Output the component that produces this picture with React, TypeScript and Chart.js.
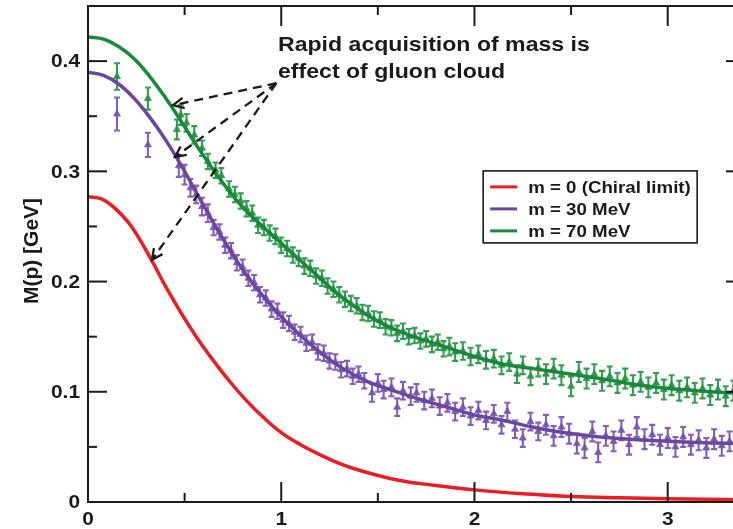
import React, { useEffect, useRef } from "react";
import { Chart, registerables } from "chart.js";
Chart.register(...registerables);

// ---- axes ----
const X_MIN = 0;
const X_MAX = 3.4;
const Y_MIN = 0;
const Y_MAX = 0.45;
const X_MAJOR = [0, 1, 2, 3];
const X_MINOR = [0.5, 1.5, 2.5];
const X_TICK_LABELS = ["0", "1", "2", "3"];
const Y_MAJOR = [0, 0.1, 0.2, 0.3, 0.4];
const Y_MINOR = [0.05, 0.15, 0.25, 0.35];
const Y_TICK_LABELS = ["0", "0.1", "0.2", "0.3", "0.4"];
const Y_TITLE = "M(p) [GeV]";

// ---- legend / annotation text ----
const SERIES_LABELS = ["m = 0 (Chiral limit)", "m = 30 MeV", "m = 70 MeV"];
const NOTE_LINES = ["Rapid acquisition of mass is", "effect of gluon cloud"];
const NOTE_POS = [0.983, 0.414]; // data coords of first line
const ARROW_FROM = [0.975, 0.38];
const ARROW_TO_P = [0.44, 0.45, 0.331];
const ARROW_TO_M = [0.36, 0.313, 0.2196];
const LEGEND_POS = [2.045, 0.3004]; // top-left corner (data coords)

// ---- fitted curves ----
const RED_P = [0, 0.07, 0.13, 0.22, 0.33, 0.4, 0.48, 0.56, 0.65, 0.73, 0.82, 0.9, 1.0, 1.1, 1.2, 1.3, 1.4, 1.6, 1.8, 2.0, 2.25, 2.5, 2.75, 3.0, 3.4];
const RED_M = [0.277, 0.275, 0.268, 0.251, 0.219, 0.196, 0.172, 0.15, 0.128, 0.11, 0.092, 0.078, 0.063, 0.052, 0.043, 0.035, 0.029, 0.02, 0.015, 0.011, 0.0075, 0.005, 0.0038, 0.003, 0.002];

const PURPLE_P = [0, 0.08, 0.16, 0.24, 0.32, 0.4, 0.48, 0.56, 0.65, 0.74, 0.82, 0.91, 1.0, 1.1, 1.2, 1.32, 1.45, 1.58, 1.72, 1.86, 2.0, 2.15, 2.3, 2.46, 2.65, 2.9, 3.15, 3.4];
const PURPLE_M = [0.39, 0.387, 0.379, 0.366, 0.349, 0.329, 0.306, 0.281, 0.253, 0.227, 0.206, 0.186, 0.168, 0.151, 0.136, 0.121, 0.109, 0.101, 0.093, 0.086, 0.079, 0.074, 0.068, 0.063, 0.059, 0.056, 0.054, 0.053];

const GREEN_P = [0, 0.08, 0.16, 0.24, 0.32, 0.4, 0.48, 0.56, 0.65, 0.74, 0.82, 0.91, 1.0, 1.08, 1.17, 1.25, 1.32, 1.45, 1.58, 1.72, 1.86, 2.0, 2.15, 2.3, 2.46, 2.65, 2.9, 3.15, 3.4];
const GREEN_M = [0.422, 0.42, 0.413, 0.402, 0.386, 0.367, 0.346, 0.324, 0.301, 0.28, 0.264, 0.249, 0.235, 0.222, 0.208, 0.195, 0.185, 0.169, 0.157, 0.148, 0.14, 0.132, 0.125, 0.121, 0.117, 0.112, 0.105, 0.101, 0.098];

// ---- lattice data (p, M, error) ----
const GREEN_DP = [0.15, 0.31, 0.46, 0.48, 0.51, 0.55, 0.59, 0.62, 0.66, 0.69, 0.73, 0.76, 0.79, 0.82, 0.85, 0.88, 0.91, 0.94, 0.97, 1.0, 1.03, 1.06, 1.09, 1.12, 1.15, 1.18, 1.21, 1.24, 1.27, 1.3, 1.33, 1.36, 1.39, 1.42, 1.45, 1.48, 1.51, 1.54, 1.57, 1.6, 1.63, 1.66, 1.69, 1.72, 1.75, 1.78, 1.81, 1.84, 1.87, 1.9, 1.94, 1.98, 2.02, 2.06, 2.1, 2.14, 2.18, 2.22, 2.25, 2.29, 2.33, 2.37, 2.41, 2.45, 2.5, 2.54, 2.58, 2.62, 2.66, 2.7, 2.74, 2.78, 2.82, 2.86, 2.9, 2.94, 2.98, 3.02, 3.06, 3.1, 3.14, 3.18, 3.22, 3.26, 3.3, 3.34, 3.38];
const GREEN_DM = [0.386, 0.366, 0.338, 0.351, 0.344, 0.333, 0.321, 0.309, 0.301, 0.296, 0.284, 0.279, 0.273, 0.266, 0.262, 0.251, 0.249, 0.244, 0.241, 0.233, 0.23, 0.224, 0.221, 0.214, 0.212, 0.205, 0.203, 0.196, 0.193, 0.188, 0.184, 0.18, 0.178, 0.172, 0.171, 0.166, 0.165, 0.159, 0.158, 0.153, 0.155, 0.15, 0.151, 0.146, 0.148, 0.143, 0.145, 0.139, 0.141, 0.136, 0.137, 0.132, 0.134, 0.129, 0.13, 0.124, 0.127, 0.116, 0.124, 0.114, 0.122, 0.116, 0.121, 0.115, 0.105, 0.118, 0.112, 0.116, 0.11, 0.114, 0.108, 0.112, 0.106, 0.109, 0.104, 0.108, 0.102, 0.106, 0.101, 0.104, 0.099, 0.103, 0.097, 0.102, 0.096, 0.101, 0.098];
const GREEN_DE = [0.012, 0.01, 0.009, 0.009, 0.008, 0.008, 0.007, 0.007, 0.007, 0.007, 0.007, 0.007, 0.007, 0.007, 0.007, 0.007, 0.007, 0.007, 0.007, 0.007, 0.007, 0.007, 0.007, 0.007, 0.007, 0.007, 0.007, 0.007, 0.007, 0.007, 0.007, 0.007, 0.007, 0.007, 0.007, 0.007, 0.007, 0.007, 0.007, 0.007, 0.007, 0.007, 0.007, 0.007, 0.007, 0.007, 0.007, 0.007, 0.008, 0.008, 0.008, 0.008, 0.008, 0.008, 0.008, 0.008, 0.008, 0.008, 0.008, 0.008, 0.008, 0.009, 0.009, 0.009, 0.009, 0.009, 0.009, 0.009, 0.009, 0.009, 0.009, 0.009, 0.009, 0.009, 0.009, 0.009, 0.009, 0.009, 0.009, 0.009, 0.009, 0.009, 0.009, 0.009, 0.009, 0.009, 0.009];

const PURPLE_DP = [0.15, 0.31, 0.47, 0.5, 0.53, 0.56, 0.59, 0.62, 0.65, 0.68, 0.71, 0.74, 0.77, 0.8, 0.83, 0.86, 0.89, 0.92, 0.95, 0.98, 1.01, 1.04, 1.07, 1.1, 1.13, 1.16, 1.19, 1.22, 1.25, 1.28, 1.31, 1.34, 1.37, 1.4, 1.43, 1.47, 1.5, 1.53, 1.57, 1.6, 1.63, 1.67, 1.7, 1.74, 1.78, 1.82, 1.86, 1.9, 1.94, 1.98, 2.02, 2.06, 2.1, 2.14, 2.17, 2.21, 2.25, 2.29, 2.33, 2.37, 2.41, 2.45, 2.49, 2.53, 2.57, 2.61, 2.64, 2.68, 2.72, 2.76, 2.8, 2.84, 2.88, 2.92, 2.96, 3.0, 3.04, 3.08, 3.12, 3.16, 3.2, 3.24, 3.28, 3.32, 3.36];
const PURPLE_DM = [0.352, 0.324, 0.305, 0.297, 0.285, 0.279, 0.268, 0.262, 0.249, 0.245, 0.233, 0.228, 0.217, 0.213, 0.203, 0.199, 0.188, 0.185, 0.175, 0.173, 0.165, 0.162, 0.154, 0.152, 0.144, 0.145, 0.136, 0.135, 0.128, 0.127, 0.12, 0.121, 0.114, 0.116, 0.11, 0.099, 0.108, 0.102, 0.104, 0.086, 0.101, 0.096, 0.099, 0.092, 0.094, 0.087, 0.09, 0.082, 0.086, 0.078, 0.083, 0.074, 0.08, 0.07, 0.082, 0.066, 0.058, 0.073, 0.064, 0.07, 0.06, 0.068, 0.062, 0.053, 0.049, 0.064, 0.045, 0.06, 0.055, 0.065, 0.052, 0.068, 0.057, 0.061, 0.052, 0.058, 0.05, 0.059, 0.052, 0.056, 0.049, 0.057, 0.051, 0.055, 0.048];
const PURPLE_DE = [0.015, 0.011, 0.01, 0.009, 0.008, 0.008, 0.008, 0.008, 0.007, 0.007, 0.007, 0.007, 0.007, 0.007, 0.007, 0.007, 0.007, 0.007, 0.007, 0.007, 0.007, 0.007, 0.007, 0.007, 0.007, 0.007, 0.007, 0.007, 0.007, 0.007, 0.007, 0.007, 0.007, 0.007, 0.007, 0.008, 0.008, 0.008, 0.008, 0.008, 0.008, 0.008, 0.008, 0.008, 0.008, 0.008, 0.008, 0.008, 0.008, 0.008, 0.008, 0.008, 0.008, 0.008, 0.008, 0.008, 0.008, 0.008, 0.008, 0.009, 0.009, 0.009, 0.009, 0.009, 0.009, 0.009, 0.009, 0.009, 0.009, 0.009, 0.009, 0.009, 0.009, 0.009, 0.009, 0.009, 0.009, 0.009, 0.009, 0.009, 0.009, 0.009, 0.009, 0.009, 0.009];

const RED = "#ec1c24";
const PURPLE = "#6b45a0";
const GREEN = "#18893b";
const PURPLE_PT = "rgba(118,82,176,0.92)";
const GREEN_PT = "rgba(38,148,68,0.92)";
const INK = "#1a1a1a";
const FONT = "'Liberation Sans', Arial, Helvetica, sans-serif";
const STRETCH = 1.1;

const zip = (xs: number[], ys: number[]) => xs.map((x, i) => ({ x, y: ys[i] }));

function text(ctx: any, t: string, x: number, y: number, align: string) {
  ctx.save();
  ctx.translate(x, y);
  ctx.scale(STRETCH, 1);
  ctx.textAlign = align;
  ctx.fillText(t, 0, 0);
  ctx.restore();
}

const decor = {
  id: "decor",
  beforeDatasetsDraw(chart: any) {
    const ctx = chart.ctx;
    const ys = chart.scales.y;
    const area = chart.chartArea;
    ctx.save();
    ctx.beginPath();
    ctx.rect(area.left, area.top, area.right - area.left, area.bottom - area.top);
    ctx.clip();
    chart.data.datasets.forEach((ds: any, i: number) => {
      if (!ds.errors) return;
      const meta = chart.getDatasetMeta(i);
      ctx.strokeStyle = ds.pointBackgroundColor;
      ctx.lineWidth = 2.1;
      meta.data.forEach((el: any, j: number) => {
        const v = ds.data[j].y;
        const e = ds.errors[j];
        const y1 = ys.getPixelForValue(v + e);
        const y2 = ys.getPixelForValue(v - e);
        ctx.beginPath();
        ctx.moveTo(el.x, y1);
        ctx.lineTo(el.x, y2);
        ctx.moveTo(el.x - 3, y1);
        ctx.lineTo(el.x + 3, y1);
        ctx.moveTo(el.x - 3, y2);
        ctx.lineTo(el.x + 3, y2);
        ctx.stroke();
      });
    });
    ctx.restore();
  },
  afterDraw(chart: any) {
    const ctx = chart.ctx;
    const xs = chart.scales.x;
    const ys = chart.scales.y;
    const a = chart.chartArea;
    ctx.save();
    ctx.strokeStyle = INK;
    ctx.fillStyle = INK;
    ctx.lineWidth = 2;
    ctx.strokeRect(a.left, a.top, a.right - a.left, a.bottom - a.top);
    const seg = (x1: number, y1: number, x2: number, y2: number) => {
      ctx.beginPath();
      ctx.moveTo(x1, y1);
      ctx.lineTo(x2, y2);
      ctx.stroke();
    };
    X_MAJOR.forEach((v) => {
      const x = xs.getPixelForValue(v);
      seg(x, a.bottom, x, a.bottom - 20);
      seg(x, a.top, x, a.top + 20);
    });
    X_MINOR.forEach((v) => {
      const x = xs.getPixelForValue(v);
      seg(x, a.bottom, x, a.bottom - 9);
      seg(x, a.top, x, a.top + 9);
    });
    Y_MAJOR.forEach((v) => {
      const y = ys.getPixelForValue(v);
      seg(a.left, y, a.left + 19, y);
      seg(a.right, y, a.right - 19, y);
    });
    Y_MINOR.forEach((v) => {
      const y = ys.getPixelForValue(v);
      seg(a.left, y, a.left + 9, y);
      seg(a.right, y, a.right - 9, y);
    });
    // tick labels
    ctx.font = `bold 19px ${FONT}`;
    ctx.textBaseline = "middle";
    X_MAJOR.forEach((v, i) => {
      text(ctx, X_TICK_LABELS[i], xs.getPixelForValue(v), a.bottom + 18, "center");
    });
    Y_MAJOR.forEach((v, i) => {
      text(ctx, Y_TICK_LABELS[i], a.left - 8, ys.getPixelForValue(v) + 1, "right");
    });
    // y title
    ctx.save();
    ctx.translate(32, (a.top + a.bottom) / 2 - 3);
    ctx.rotate(-Math.PI / 2);
    ctx.textAlign = "center";
    ctx.font = `bold 21px ${FONT}`;
    ctx.fillText(Y_TITLE, 0, 0);
    ctx.restore();

    // annotation text
    ctx.font = `bold 21px ${FONT}`;
    const nx = xs.getPixelForValue(NOTE_POS[0]);
    const ny = ys.getPixelForValue(NOTE_POS[1]);
    NOTE_LINES.forEach((t, i) => text(ctx, t, nx, ny + i * 27, "left"));

    // arrows
    const fx = xs.getPixelForValue(ARROW_FROM[0]);
    const fy = ys.getPixelForValue(ARROW_FROM[1]);
    ctx.lineWidth = 2.3;
    ARROW_TO_P.forEach((p, i) => {
      const tx = xs.getPixelForValue(p);
      const ty = ys.getPixelForValue(ARROW_TO_M[i]);
      ctx.setLineDash([9, 6]);
      seg(fx, fy, tx, ty);
      ctx.setLineDash([]);
      const ang = Math.atan2(ty - fy, tx - fx);
      const L = 12;
      ctx.beginPath();
      ctx.moveTo(tx - L * Math.cos(ang - 0.45), ty - L * Math.sin(ang - 0.45));
      ctx.lineTo(tx, ty);
      ctx.lineTo(tx - L * Math.cos(ang + 0.45), ty - L * Math.sin(ang + 0.45));
      ctx.stroke();
    });

    // legend
    const lx = xs.getPixelForValue(LEGEND_POS[0]);
    const ly = ys.getPixelForValue(LEGEND_POS[1]);
    ctx.lineWidth = 1.6;
    ctx.strokeStyle = INK;
    ctx.fillStyle = "#ffffff";
    ctx.fillRect(lx, ly, 214, 72);
    ctx.strokeRect(lx, ly, 214, 72);
    const cols = [RED, PURPLE, GREEN];
    ctx.font = `bold 17px ${FONT}`;
    ctx.textBaseline = "middle";
    SERIES_LABELS.forEach((t, i) => {
      const yy = ly + 16 + i * 22;
      ctx.strokeStyle = cols[i];
      ctx.lineWidth = 3;
      seg(lx + 7, yy, lx + 34, yy);
      ctx.fillStyle = INK;
      text(ctx, t, lx + 45, yy + 1, "left");
    });
    ctx.restore();
  },
};

export default function App() {
  const ref = useRef<HTMLCanvasElement>(null);
  useEffect(() => {
    if (!ref.current) return;
    const lineDs = (label: string, p: number[], m: number[], c: string) => ({
      label,
      data: zip(p, m),
      showLine: true,
      borderColor: c,
      backgroundColor: c,
      borderWidth: 3.5,
      pointRadius: 0,
      tension: 0.4,
      order: 1,
    });
    const ptDs = (label: string, p: number[], m: number[], e: number[], c: string) => ({
      label,
      data: zip(p, m),
      errors: e,
      showLine: false,
      pointStyle: "triangle",
      pointRadius: 4,
      pointBackgroundColor: c,
      pointBorderColor: c,
      pointBorderWidth: 0.8,
      order: 2,
    });
    const chart = new Chart(ref.current, {
      type: "scatter",
      data: {
        datasets: [
          ptDs("m = 30 MeV data", PURPLE_DP, PURPLE_DM, PURPLE_DE, PURPLE_PT),
          ptDs("m = 70 MeV data", GREEN_DP, GREEN_DM, GREEN_DE, GREEN_PT),
          lineDs(SERIES_LABELS[0], RED_P, RED_M, RED),
          lineDs(SERIES_LABELS[1], PURPLE_P, PURPLE_M, PURPLE),
          lineDs(SERIES_LABELS[2], GREEN_P, GREEN_M, GREEN),
        ] as any,
      },
      options: {
        responsive: false,
        animation: false,
        devicePixelRatio: 1,
        layout: { padding: { left: 88, right: 15, top: 6, bottom: 27 } },
        plugins: { legend: { display: false }, tooltip: { enabled: false } },
        scales: {
          x: { type: "linear", min: X_MIN, max: X_MAX, display: false },
          y: { type: "linear", min: Y_MIN, max: Y_MAX, display: false },
        },
      },
      plugins: [decor],
    });
    return () => chart.destroy();
  }, []);
  return (
    <div style={{ position: "fixed", left: 0, top: 0, width: 733, height: 529, overflow: "hidden", background: "#fff" }}>
      <canvas ref={ref} width={760} height={529} style={{ display: "block" }} />
    </div>
  );
}
